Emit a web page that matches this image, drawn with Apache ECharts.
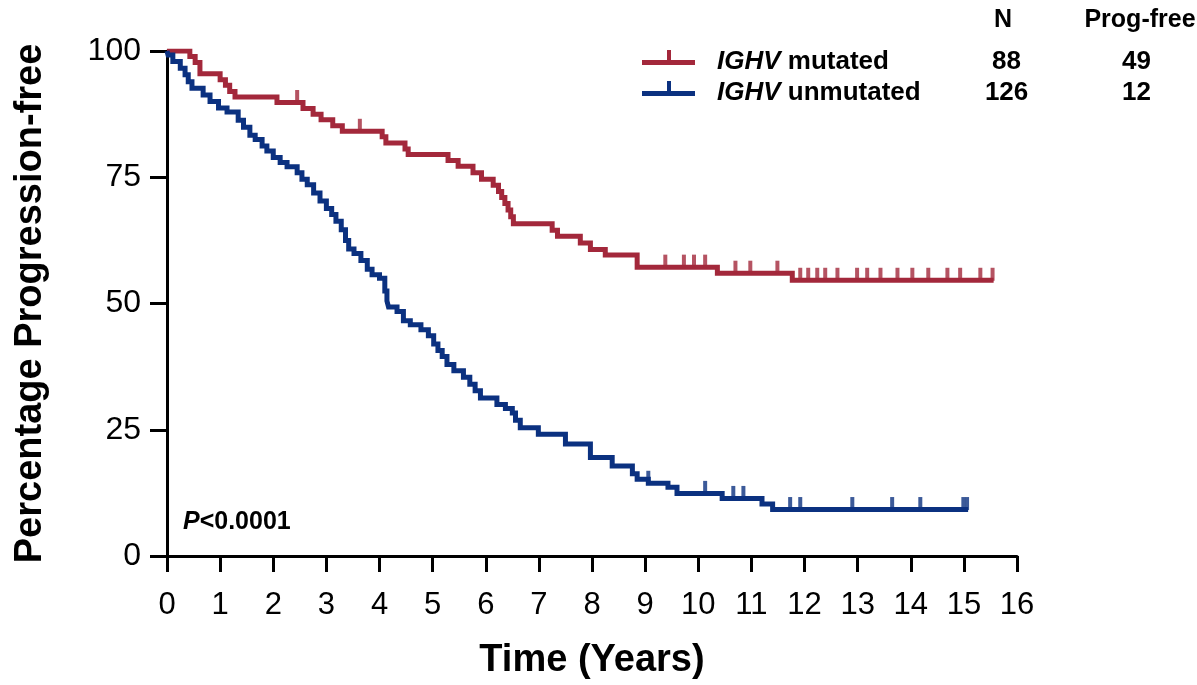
<!DOCTYPE html>
<html>
<head>
<meta charset="utf-8">
<script src="https://cdn.jsdelivr.net/npm/echarts@6/dist/echarts.min.js"></script>
<style>
  html, body { margin: 0; padding: 0; background: #ffffff; }
  #chart { width: 1197px; height: 685px; }
</style>
</head>
<body>
<div id="chart"></div>
<script>
// Progression-free survival by IGHV mutation status (Kaplan–Meier)
const FONT = '"Liberation Sans", Arial, Helvetica, sans-serif';

const groupNames = ['IGHV mutated', 'IGHV unmutated'];
const groupColors = ['#a3283b', '#0b3180'];
const groupN = [88, 126];
const groupProgFree = [49, 12];
const columnHeaders = ['N', 'Prog-free'];
const pValueText = ['P', '<0.0001'];
const xAxisTitle = 'Time (Years)';
const yAxisTitle = 'Percentage Progression-free';

// Step points: time (years) where the estimate changes, and the value from then on.
// The last entry marks where follow-up ends.
const mutatedTimes = [0, 0.43, 0.53, 0.62, 1.00, 1.10, 1.18, 1.28, 2.07, 2.56, 2.75, 2.90, 3.12, 3.30,
  4.05, 4.12, 4.48, 4.54, 5.29, 5.48, 5.76, 5.92, 6.14, 6.24, 6.30, 6.36, 6.42, 6.47, 6.52,
  7.25, 7.35, 7.78, 7.97, 8.25, 8.85, 10.36, 11.77, 15.56];
const mutatedSurv = [100, 98.9, 97.7, 95.5, 94.3, 93.2, 92.0, 90.9, 89.8, 88.6, 87.5, 86.4, 85.2, 84.1,
  83.0, 81.8, 80.6, 79.5, 78.3, 77.2, 75.9, 74.6, 73.4, 72.2, 71.0, 69.8, 68.5, 67.2, 65.8,
  64.5, 63.3, 62.0, 60.7, 59.6, 57.2, 56.0, 54.6, 54.6];
// Censored observations (years)
const mutatedCensored = [2.45, 3.63, 9.38, 9.73, 9.92, 10.13, 10.70, 10.98, 11.49, 11.92, 12.07, 12.24,
  12.39, 12.62, 12.99, 13.18, 13.43, 13.75, 14.03, 14.33, 14.69, 14.93, 15.31, 15.54];

const unmutatedTimes = [0, 0.02, 0.11, 0.25, 0.34, 0.40, 0.47, 0.68, 0.81, 0.97, 1.13, 1.34, 1.44, 1.56,
  1.66, 1.79, 1.88, 2.00, 2.13, 2.26, 2.45, 2.54, 2.64, 2.76, 2.88, 3.00, 3.10, 3.18, 3.28, 3.36,
  3.42, 3.52, 3.65, 3.77, 3.86, 4.00, 4.10, 4.14, 4.17, 4.33, 4.45, 4.58, 4.78, 4.92, 5.02, 5.10,
  5.18, 5.27, 5.40, 5.58, 5.70, 5.80, 5.90, 6.21, 6.37, 6.50, 6.56, 6.65, 6.99, 7.50, 7.97, 8.38,
  8.76, 8.85, 9.06, 9.43, 9.60, 10.45, 11.20, 11.40, 15.08];
const unmutatedSurv = [100, 99.2, 97.9, 96.6, 95.3, 93.9, 92.6, 91.3, 90.0, 88.7, 87.9, 86.3, 84.9, 83.3,
  82.5, 81.2, 80.2, 78.9, 77.9, 77.1, 75.9, 74.6, 73.5, 71.9, 70.3, 68.8, 67.6, 66.3, 64.6, 62.5,
  60.8, 59.9, 58.5, 56.8, 55.7, 55.0, 52.5, 50.5, 49.3, 48.4, 46.6, 45.8, 44.8, 43.6, 42.0, 40.7,
  39.5, 37.9, 36.7, 35.4, 34.0, 32.7, 31.3, 30.0, 29.2, 28.3, 26.9, 25.4, 24.1, 22.2, 19.5, 17.8,
  16.3, 15.2, 14.4, 13.6, 12.4, 11.4, 10.3, 9.2, 9.2];
const unmutatedCensored = [9.06, 10.13, 10.66, 10.85, 11.73, 11.92, 12.90, 13.65, 14.18, 14.99, 15.06];

function stepPairs(times, surv) {
  return times.map((t, i) => [t, surv[i]]);
}
// Value of the step curve at time t (for placing censor marks on the line)
function valueAt(times, surv, t) {
  let v = surv[0];
  for (let i = 0; i < times.length; i++) {
    if (times[i] <= t) v = surv[i]; else break;
  }
  return v;
}
function censorPairs(times, surv, cens) {
  return cens.map(t => [t, valueAt(times, surv, t)]);
}

const curves = [
  { times: mutatedTimes, surv: mutatedSurv, cens: mutatedCensored },
  { times: unmutatedTimes, surv: unmutatedSurv, cens: unmutatedCensored }
];

const series = [];
curves.forEach((c, i) => {
  series.push({
    name: groupNames[i],
    type: 'line',
    step: 'end',
    showSymbol: false,
    symbol: 'none',
    silent: true,
    color: groupColors[i],
    lineStyle: { color: groupColors[i], width: 5, cap: 'butt', join: 'miter' },
    data: stepPairs(c.times, c.surv),
    z: 3
  });
  series.push({
    name: groupNames[i] + ' censored',
    type: 'scatter',
    symbol: 'rect',
    symbolSize: [4, 13],
    symbolOffset: [0, -6],
    silent: true,
    itemStyle: { color: groupColors[i] },
    data: censorPairs(c.times, c.surv, c.cens),
    z: 4
  });
});

// Legend marker: horizontal line with a censor tick
const legendIcon = 'path://M0,26M0,12H53V17H0ZM25,2H29V12H25Z';

const chart = echarts.init(document.getElementById('chart'), null, { renderer: 'canvas' });
chart.setOption({
  animation: false,
  backgroundColor: '#ffffff',
  grid: { left: 167, right: 180, top: 51, bottom: 126, containLabel: false },
  xAxis: {
    type: 'value',
    min: 0, max: 16, interval: 1,
    name: xAxisTitle,
    nameLocation: 'middle',
    nameGap: 86,
    nameTextStyle: { fontFamily: FONT, fontSize: 38, fontWeight: 'bold', color: '#000', verticalAlign: 'top' },
    axisLine: { show: true, onZero: false, lineStyle: { color: '#000', width: 3 } },
    axisTick: { show: true, inside: false, length: 16, lineStyle: { color: '#000', width: 3 } },
    axisLabel: { margin: 34, fontFamily: FONT, fontSize: 31, color: '#000' },
    splitLine: { show: false }
  },
  yAxis: {
    type: 'value',
    min: 0, max: 100, interval: 25,
    name: yAxisTitle,
    nameLocation: 'middle',
    nameGap: 117,
    nameTextStyle: { fontFamily: FONT, fontSize: 38, fontWeight: 'bold', color: '#000' },
    axisLine: { show: true, onZero: false, lineStyle: { color: '#000', width: 3 } },
    axisTick: { show: true, inside: false, length: 17, lineStyle: { color: '#000', width: 3 } },
    axisLabel: { margin: 26, fontFamily: FONT, fontSize: 32, color: '#000' },
    splitLine: { show: false }
  },
  legend: {
    data: groupNames,
    orient: 'vertical',
    left: 637,
    top: 44,
    itemWidth: 53,
    itemHeight: 24,
    itemGap: 5,
    icon: legendIcon,
    selectedMode: false,
    formatter: function (name) {
      const i = groupNames.indexOf(name);
      const parts = name.split(' ');
      return '{it|' + parts[0] + '}{nm| ' + parts.slice(1).join(' ') + '}{n|' + groupN[i] + '}{p|' + groupProgFree[i] + '}';
    },
    textStyle: {
      fontFamily: FONT,
      fontSize: 26,
      fontWeight: 'bold',
      color: '#000',
      rich: {
        it: { fontFamily: FONT, fontSize: 26, fontWeight: 'bold', fontStyle: 'italic', color: '#000', padding: [0, 0, 0, 17], lineHeight: 26 },
        nm: { fontFamily: FONT, fontSize: 26, fontWeight: 'bold', color: '#000', width: 186, lineHeight: 26 },
        n: { fontFamily: FONT, fontSize: 26, fontWeight: 'bold', color: '#000', width: 80, align: 'center', lineHeight: 26 },
        p: { fontFamily: FONT, fontSize: 26, fontWeight: 'bold', color: '#000', width: 180, align: 'center', lineHeight: 26 }
      }
    }
  },
  graphic: [
    {
      type: 'text', x: 1003, y: 20,
      style: { text: columnHeaders[0], fontFamily: FONT, fontSize: 25, fontWeight: 'bold', fill: '#000', align: 'center', verticalAlign: 'middle' }
    },
    {
      type: 'text', x: 1140, y: 20,
      style: { text: columnHeaders[1], fontFamily: FONT, fontSize: 25, fontWeight: 'bold', fill: '#000', align: 'center', verticalAlign: 'middle' }
    },
    {
      type: 'text', x: 183, y: 522,
      style: {
        text: '{i|' + pValueText[0] + '}{r|' + pValueText[1] + '}',
        verticalAlign: 'middle',
        rich: {
          i: { fontFamily: FONT, fontSize: 25, fontWeight: 'bold', fontStyle: 'italic', fill: '#000' },
          r: { fontFamily: FONT, fontSize: 25, fontWeight: 'bold', fill: '#000' }
        }
      }
    }
  ],
  series: series
});
</script>
</body>
</html>
